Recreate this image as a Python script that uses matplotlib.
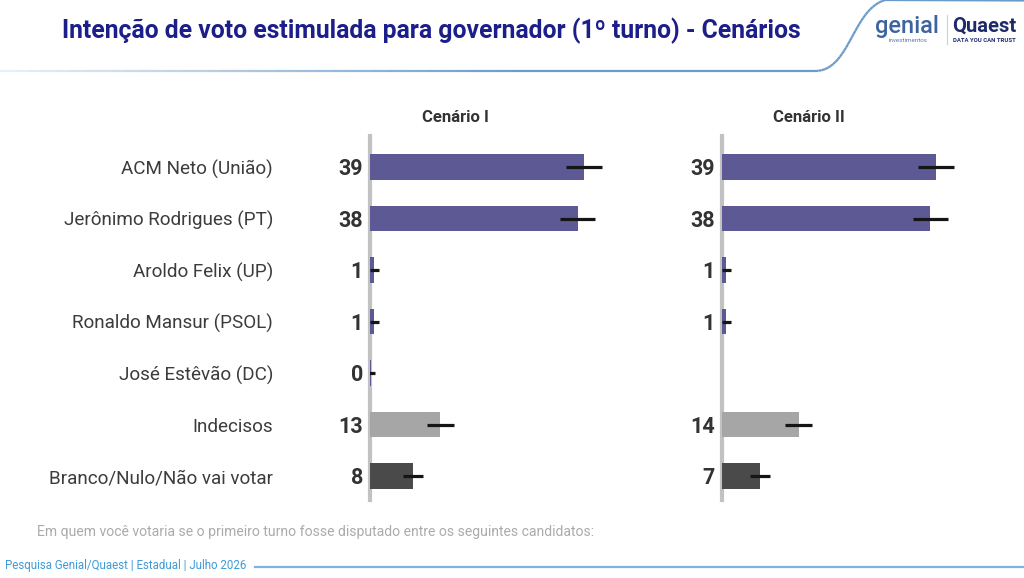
import matplotlib
matplotlib.use("Agg")
import matplotlib.pyplot as plt
import numpy as np
from matplotlib import transforms
from matplotlib.collections import LineCollection

# ---------------- data ----------------
categories = ["ACM Neto (União)", "Jerônimo Rodrigues (PT)", "Aroldo Felix (UP)",
              "Ronaldo Mansur (PSOL)", "José Estêvão (DC)", "Indecisos",
              "Branco/Nulo/Não vai votar"]
scenario_titles = ["Cenário I", "Cenário II"]
values_c1 = [39.2, 38.1, 0.8, 0.8, 0.2, 12.9, 7.9]
values_c2 = [39.3, 38.2, 0.8, 0.8, np.nan, 14.1, 7.0]
labels_c1 = ["39", "38", "1", "1", "0", "13", "8"]
labels_c2 = ["39", "38", "1", "1", "", "14", "7"]
err_c1 = [3.3, 3.2, 0.8, 0.8, 0.8, 2.5, 1.9]
err_c2 = [3.3, 3.2, 0.8, 0.8, np.nan, 2.5, 1.8]

title = "Intenção de voto estimulada para governador (1º turno) - Cenários"
note = "Em quem você votaria se o primeiro turno fosse disputado entre os seguintes candidatos:"
footer = "Pesquisa Genial/Quaest | Estadual | Julho 2026"

# ---------------- style ----------------
W, H = 1024, 578
plt.rcParams['font.family'] = ['Roboto', 'DejaVu Sans']
PURPLE = "#5c5994"
LGRAY = "#a6a6a6"
DGRAY = "#4a4a4a"
bar_colors = [PURPLE] * 5 + [LGRAY, DGRAY]

fig = plt.figure(figsize=(W / 100, H / 100), dpi=100)
fig.patch.set_facecolor("white")

def fx(x):
    return x / W

def fy(y):
    return 1 - y / H

scale = 5.45  # px per unit
ax_w = 250
row_top, row_bot = 141.25, 501.75
axes = []
for left in (370, 722):
    ax = fig.add_axes([fx(left), fy(row_bot), ax_w / W, (row_bot - row_top) / H])
    ax.set_xlim(0, ax_w / scale)
    ax.set_ylim(len(categories) - 0.5, -0.5)
    ax.axis("off")
    axes.append(ax)

ypos = np.arange(len(categories))
for ax, vals, labs, errs, ttl, cx in zip(axes, [values_c1, values_c2], [labels_c1, labels_c2],
                                         [err_c1, err_c2], scenario_titles, (455, 809)):
    vals = np.array(vals, dtype=float)
    errs = np.array(errs, dtype=float)
    mask = ~np.isnan(vals)
    ax.barh(ypos[mask], vals[mask], height=0.5,
            color=[c for c, m in zip(bar_colors, mask) if m], zorder=2)
    ax.errorbar(vals[mask], ypos[mask], xerr=errs[mask], fmt="none",
                ecolor="#151515", elinewidth=2.3, capsize=0, zorder=3)
    ax.axvline(0, ymin=0.005, ymax=1.014, color="#c2c2c2", lw=3.0, clip_on=False, zorder=1)
    for yy, lab, m in zip(ypos, labs, mask):
        if m and lab:
            ax.annotate(lab, xy=(0, yy), xytext=(-5, -1.5), textcoords="offset points",
                        ha="right", va="center", fontsize=15.5, fontweight="bold",
                        color="#333333")
    fig.text(fx(cx), fy(118), ttl, ha="center", va="center", fontsize=12,
             fontweight="bold", color="#333333")

# category labels
tr = transforms.blended_transform_factory(fig.transFigure, axes[0].transData)
for yy, cat in zip(ypos, categories):
    axes[0].annotate(cat, xy=(fx(273), yy), xycoords=tr, xytext=(0, -1.5),
                     textcoords="offset points", ha="right", va="center",
                     fontsize=13.6, color="#3c3c3c")

# title
fig.text(fx(62), fy(31), title, ha="left", va="center", fontsize=17.8,
         fontweight="bold", color="#1c1f8a")

# note and footer
fig.text(fx(37), fy(532), note, ha="left", va="center", fontsize=10.1, color="#ababab")
fig.text(fx(5), fy(566), footer, ha="left", va="center", fontsize=8.3, color="#3f9ad6")
fig.add_artist(plt.Line2D([fx(255), fx(1024)], [fy(567), fy(567)], color="#7db3de",
                          lw=1.6, transform=fig.transFigure))

# header curved line with fading left part
xs_line = np.linspace(0, 815, 60)
ys_line = np.full_like(xs_line, 71.0)
t = np.linspace(0, 1, 30)
p0, p1, p2, p3 = np.array([815, 71]), np.array([850, 71]), np.array([852, 10]), np.array([885, 0])
bez = ((1 - t)[:, None] ** 3) * p0 + 3 * ((1 - t)[:, None] ** 2) * t[:, None] * p1 \
    + 3 * (1 - t)[:, None] * (t[:, None] ** 2) * p2 + (t[:, None] ** 3) * p3
px = np.concatenate([xs_line, bez[1:, 0], [1024]])
py = np.concatenate([ys_line, bez[1:, 1], [0.5]])
pts = np.column_stack([fx(px), fy(py)])
segs = np.stack([pts[:-1], pts[1:]], axis=1)
alphas = np.clip(0.15 + (px[:-1] / 600.0), 0, 1)
cols = [(0.42, 0.61, 0.79, a) for a in alphas]
fig.add_artist(LineCollection(segs, colors=cols, linewidths=1.6, transform=fig.transFigure))

# logo
fig.text(fx(875), fy(27), "genial", ha="left", va="center", fontsize=17,
         color="#3e64a0", fontweight="medium")
fig.text(fx(889), fy(41), "investimentos", ha="left", va="center", fontsize=4.5,
         color="#5a7db0")
fig.add_artist(plt.Line2D([fx(947), fx(947)], [fy(15), fy(44)], color="#c8d0e0",
                          lw=0.8, transform=fig.transFigure))
fig.text(fx(952), fy(26), "Quaest", ha="left", va="center", fontsize=14.5,
         color="#1e2a6a", fontweight="bold")
fig.text(fx(953), fy(41), "DATA YOU CAN TRUST", ha="left", va="center", fontsize=4.3,
         color="#1e2a6a", fontweight="bold")

fig.savefig("out.png", dpi=100, facecolor="white")
